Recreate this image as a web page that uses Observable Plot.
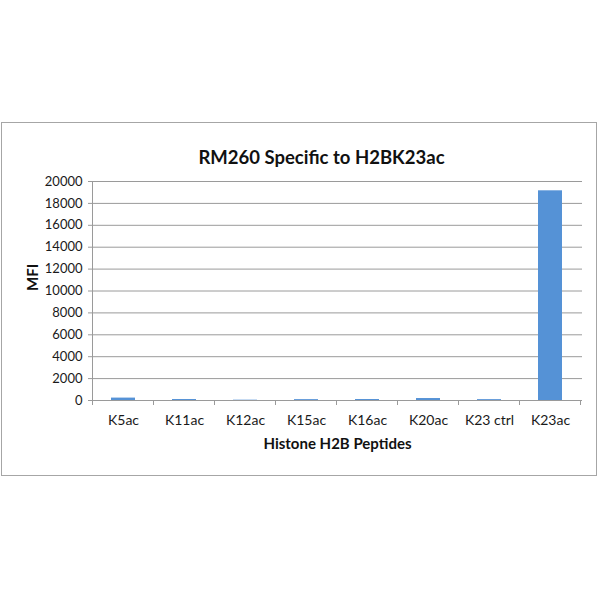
<!DOCTYPE html>
<html>
<head>
<meta charset="utf-8">
<script src="https://cdn.jsdelivr.net/npm/d3@7"></script>
<script src="https://cdn.jsdelivr.net/npm/@observablehq/plot@0.6"></script>
<style>
  html, body { margin: 0; padding: 0; background: #fff; }
  #page { position: relative; width: 600px; height: 600px; }
  #box { position: absolute; left: 1px; top: 122px; width: 594px; height: 352px; border: 1px solid #a6a6a6; }
  #box svg { position: absolute; left: 0; top: 0; overflow: visible; }
</style>
</head>
<body>
<div id="page"><div id="box"></div></div>
<script>
const title = "RM260 Specific to H2BK23ac";
const xLabel = "Histone H2B Peptides";
const yLabel = "MFI";
const peptides = ["K5ac", "K11ac", "K12ac", "K15ac", "K16ac", "K20ac", "K23 ctrl", "K23ac"];
const mfi = [220, 90, 30, 80, 90, 180, 80, 19150];
const yTicks = [0, 2000, 4000, 6000, 8000, 10000, 12000, 14000, 16000, 18000, 20000];

const data = peptides.map((p, i) => ({peptide: p, mfi: mfi[i]}));
const font = "Lato, 'Open Sans', sans-serif";
const grey = "#9a9a9a";

const chart = Plot.plot({
  width: 594,
  height: 352,
  marginLeft: 90,
  marginRight: 14,
  marginTop: 58,
  marginBottom: 75,
  style: {fontFamily: font, color: "#1a1a1a", background: "transparent"},
  x: {domain: peptides, paddingInner: 0.6, paddingOuter: 0.3, label: null},
  y: {domain: [0, 20000], label: null},
  marks: [
    Plot.ruleY(yTicks, {stroke: grey, strokeWidth: 1}),
    Plot.barY(data, {x: "peptide", y: "mfi", fill: "#5592d6"}),
    Plot.axisY({ticks: yTicks, tickSize: 4, tickPadding: 6, stroke: grey, fontSize: 13, tickFormat: d => String(d)}),
    Plot.axisX({tickSize: 0, tickPadding: 15, fontSize: 14}),
    Plot.text([title], {frameAnchor: "top", dx: -16, dy: -31, fontSize: 18.5, fontWeight: "bold", fill: "#111"}),
    Plot.text([xLabel], {frameAnchor: "bottom", dy: 48, fontSize: 15, fontWeight: "bold", fill: "#111"}),
    Plot.text([yLabel], {frameAnchor: "left", dx: -59, rotate: -90, fontSize: 15, fontWeight: "bold", fill: "#111"})
  ]
});
document.getElementById("box").appendChild(chart);

// category-boundary ticks and the vertical axis line, positioned through the scales
const xs = chart.scale("x");
const ysc = chart.scale("y");
const step = xs.step;
const first = xs.apply(peptides[0]) - (step - xs.bandwidth) / 2;
const y0 = ysc.apply(0);
const yTop = ysc.apply(20000);
const svg = d3.select(chart);
const g = svg.append("g").attr("stroke", grey).attr("shape-rendering", "crispEdges");
g.append("line").attr("x1", first).attr("x2", first).attr("y1", yTop).attr("y2", y0);
g.selectAll("line.tick")
  .data(d3.range(peptides.length + 1))
  .join("line")
  .attr("class", "tick")
  .attr("x1", i => first + i * step).attr("x2", i => first + i * step)
  .attr("y1", y0).attr("y2", y0 + 5);
</script>
</body>
</html>
